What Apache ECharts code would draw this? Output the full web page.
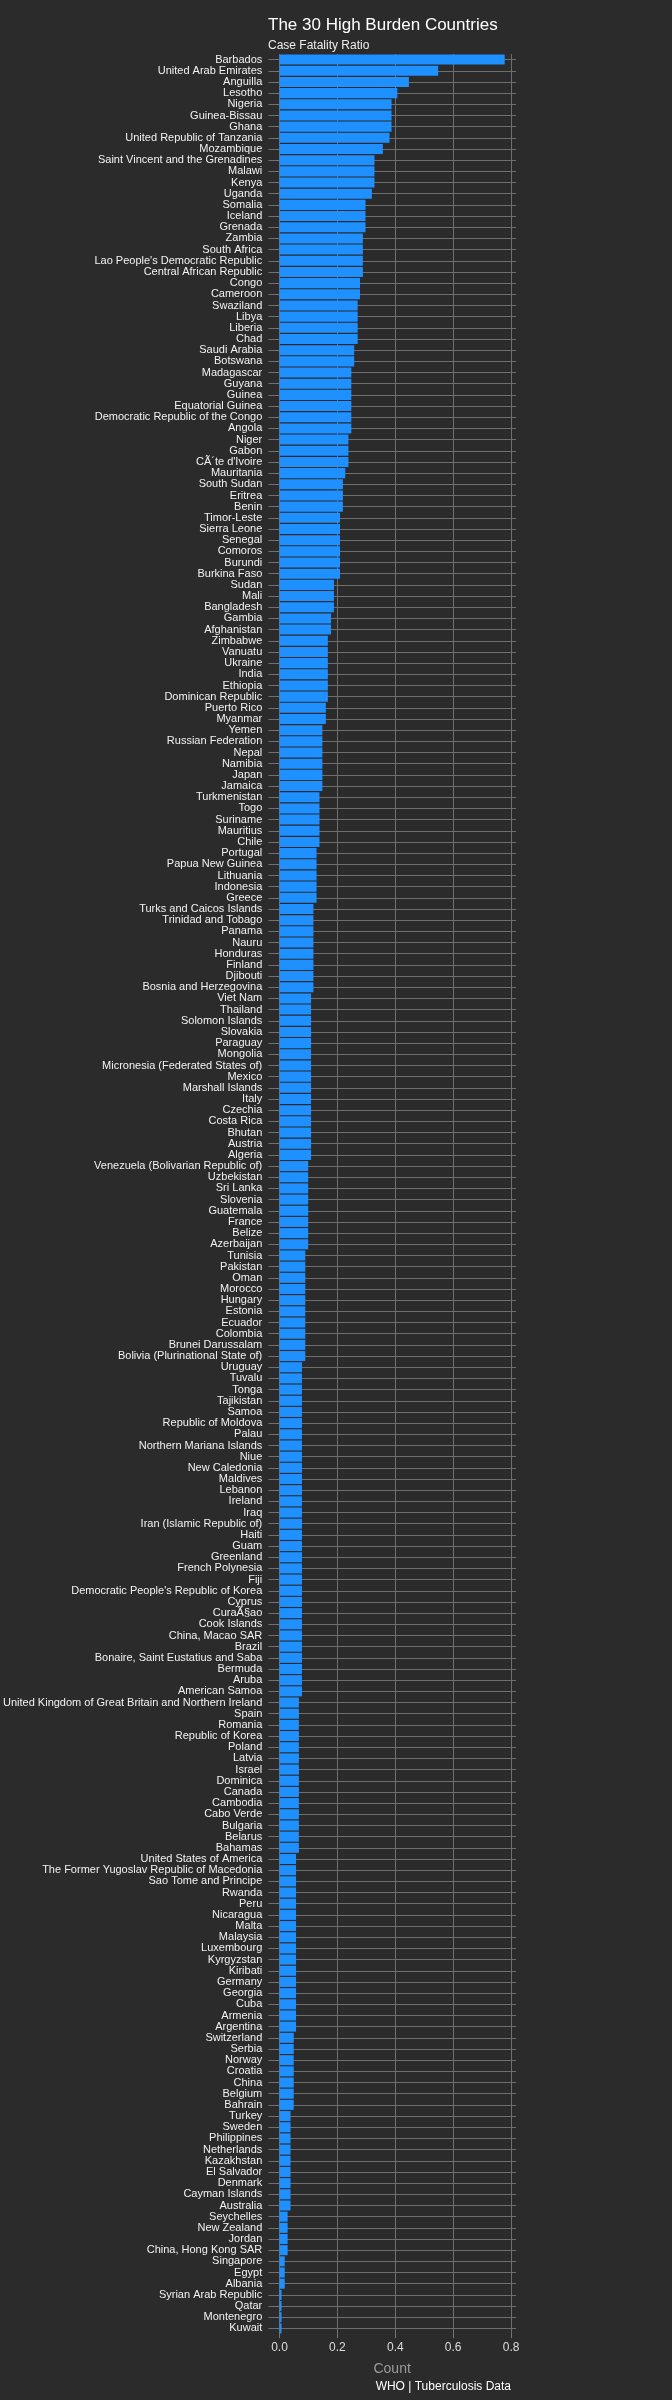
<!DOCTYPE html>
<html>
<head>
<meta charset="utf-8">
<title>The 30 High Burden Countries</title>
<script src="https://cdn.jsdelivr.net/npm/echarts@6/dist/echarts.min.js"></script>
<style>
html,body{margin:0;padding:0;background:#2b2b2b;}
#main{width:672px;height:2400px;}
</style>
</head>
<body>
<div id="main"></div>
<script type="text/javascript">
// groups of countries sharing (roughly) the same case fatality ratio, top to bottom
var groups = [
  [0.778, ['Barbados']],
  [0.548, ['United Arab Emirates']],
  [0.447, ['Anguilla']],
  [0.407, ['Lesotho']],
  [0.387, ['Nigeria', 'Guinea-Bissau', 'Ghana']],
  [0.380, ['United Republic of Tanzania']],
  [0.357, ['Mozambique']],
  [0.328, ['Saint Vincent and the Grenadines', 'Malawi', 'Kenya']],
  [0.319, ['Uganda']],
  [0.297, ['Somalia', 'Iceland', 'Grenada']],
  [0.288, ['Zambia', 'South Africa', "Lao People's Democratic Republic", 'Central African Republic']],
  [0.278, ['Congo', 'Cameroon']],
  [0.270, ['Swaziland', 'Libya', 'Liberia', 'Chad']],
  [0.258, ['Saudi Arabia', 'Botswana']],
  [0.248, ['Madagascar', 'Guyana', 'Guinea', 'Equatorial Guinea', 'Democratic Republic of the Congo', 'Angola']],
  [0.238, ['Niger', 'Gabon', 'CÃ´te d\'Ivoire']],
  [0.227, ['Mauritania']],
  [0.219, ['South Sudan', 'Eritrea', 'Benin']],
  [0.209, ['Timor-Leste', 'Sierra Leone', 'Senegal', 'Comoros', 'Burundi', 'Burkina Faso']],
  [0.188, ['Sudan', 'Mali', 'Bangladesh']],
  [0.178, ['Gambia', 'Afghanistan']],
  [0.167, ['Zimbabwe', 'Vanuatu', 'Ukraine', 'India', 'Ethiopia', 'Dominican Republic']],
  [0.160, ['Puerto Rico', 'Myanmar']],
  [0.148, ['Yemen', 'Russian Federation', 'Nepal', 'Namibia', 'Japan', 'Jamaica']],
  [0.138, ['Turkmenistan', 'Togo', 'Suriname', 'Mauritius', 'Chile']],
  [0.128, ['Portugal', 'Papua New Guinea', 'Lithuania', 'Indonesia', 'Greece']],
  [0.117, ['Turks and Caicos Islands', 'Trinidad and Tobago', 'Panama', 'Nauru', 'Honduras', 'Finland', 'Djibouti', 'Bosnia and Herzegovina']],
  [0.109, ['Viet Nam', 'Thailand', 'Solomon Islands', 'Slovakia', 'Paraguay', 'Mongolia', 'Micronesia (Federated States of)', 'Mexico', 'Marshall Islands', 'Italy', 'Czechia', 'Costa Rica', 'Bhutan', 'Austria', 'Algeria']],
  [0.099, ['Venezuela (Bolivarian Republic of)', 'Uzbekistan', 'Sri Lanka', 'Slovenia', 'Guatemala', 'France', 'Belize', 'Azerbaijan']],
  [0.089, ['Tunisia', 'Pakistan', 'Oman', 'Morocco', 'Hungary', 'Estonia', 'Ecuador', 'Colombia', 'Brunei Darussalam', 'Bolivia (Plurinational State of)']],
  [0.0775, ['Uruguay', 'Tuvalu', 'Tonga', 'Tajikistan', 'Samoa', 'Republic of Moldova', 'Palau', 'Northern Mariana Islands', 'Niue', 'New Caledonia', 'Maldives', 'Lebanon', 'Ireland', 'Iraq', 'Iran (Islamic Republic of)', 'Haiti', 'Guam', 'Greenland', 'French Polynesia', 'Fiji', "Democratic People's Republic of Korea", 'Cyprus', 'CuraÃ§ao', 'Cook Islands', 'China, Macao SAR', 'Brazil', 'Bonaire, Saint Eustatius and Saba', 'Bermuda', 'Aruba', 'American Samoa']],
  [0.067, ['United Kingdom of Great Britain and Northern Ireland', 'Spain', 'Romania', 'Republic of Korea', 'Poland', 'Latvia', 'Israel', 'Dominica', 'Canada', 'Cambodia', 'Cabo Verde', 'Bulgaria', 'Belarus', 'Bahamas']],
  [0.057, ['United States of America', 'The Former Yugoslav Republic of Macedonia', 'Sao Tome and Principe', 'Rwanda', 'Peru', 'Nicaragua', 'Malta', 'Malaysia', 'Luxembourg', 'Kyrgyzstan', 'Kiribati', 'Germany', 'Georgia', 'Cuba', 'Armenia', 'Argentina']],
  [0.049, ['Switzerland', 'Serbia', 'Norway', 'Croatia', 'China', 'Belgium', 'Bahrain']],
  [0.038, ['Turkey', 'Sweden', 'Philippines', 'Netherlands', 'Kazakhstan', 'El Salvador', 'Denmark', 'Cayman Islands', 'Australia']],
  [0.028, ['Seychelles', 'New Zealand', 'Jordan', 'China, Hong Kong SAR']],
  [0.018, ['Singapore', 'Egypt', 'Albania']],
  [0.007, ['Syrian Arab Republic', 'Qatar', 'Montenegro', 'Kuwait']]
];
var tickValues = [0, 0.2, 0.4, 0.6, 0.8];

var countries = [];
var ratios = [];
groups.forEach(function (g) {
  g[1].forEach(function (c) { countries.push(c); ratios.push(g[0]); });
});

var myChart = echarts.init(document.getElementById('main'));
var option = {
  backgroundColor: '#2b2b2b',
  textStyle: {fontFamily: 'Liberation Sans, Arial, sans-serif'},
  title: [
    {text: 'The 30 High Burden Countries', left: 263, top: 12,
     textStyle: {color: '#ffffff', fontSize: 17, fontWeight: 'normal'}},
    {text: 'Case Fatality Ratio', left: 263, top: 35,
     textStyle: {color: '#eeeeee', fontSize: 12, fontWeight: 'normal'}},
    {text: 'WHO | Tuberculosis Data', right: 156, top: 2376,
     textStyle: {color: '#ffffff', fontSize: 12, fontWeight: 'normal'}}
  ],
  grid: {left: 262, right: 156, top: 54, bottom: 66, containLabel: false},
  xAxis: {
    type: 'value',
    min: -0.039,
    max: 0.817,
    name: 'Count',
    nameLocation: 'middle',
    nameGap: 28,
    nameTextStyle: {color: '#9a9a9a', fontSize: 14},
    axisLine: {show: false},
    axisTick: {show: true, customValues: tickValues, length: 4, lineStyle: {color: '#777'}},
    axisLabel: {color: '#dddddd', fontSize: 12, margin: 8, customValues: tickValues,
                formatter: function (v) { return v.toFixed(1); }},
    splitLine: {show: true, lineStyle: {color: '#6e6e6e', width: 1}}
  },
  yAxis: {
    type: 'category',
    inverse: true,
    data: countries,
    axisLine: {show: false},
    axisTick: {show: true, alignWithLabel: true, interval: 0, length: 4, lineStyle: {color: '#777'}},
    axisLabel: {color: '#f2f2f2', fontSize: 11, interval: 0, margin: 6},
    splitLine: {show: true, alignWithLabel: true, interval: 0, lineStyle: {color: '#6e6e6e', width: 1}}
  },
  series: [{
    type: 'bar',
    data: ratios,
    barWidth: '90%',
    itemStyle: {color: '#1e90ff'}
  }]
};
myChart.setOption(option);
</script>
</body>
</html>
